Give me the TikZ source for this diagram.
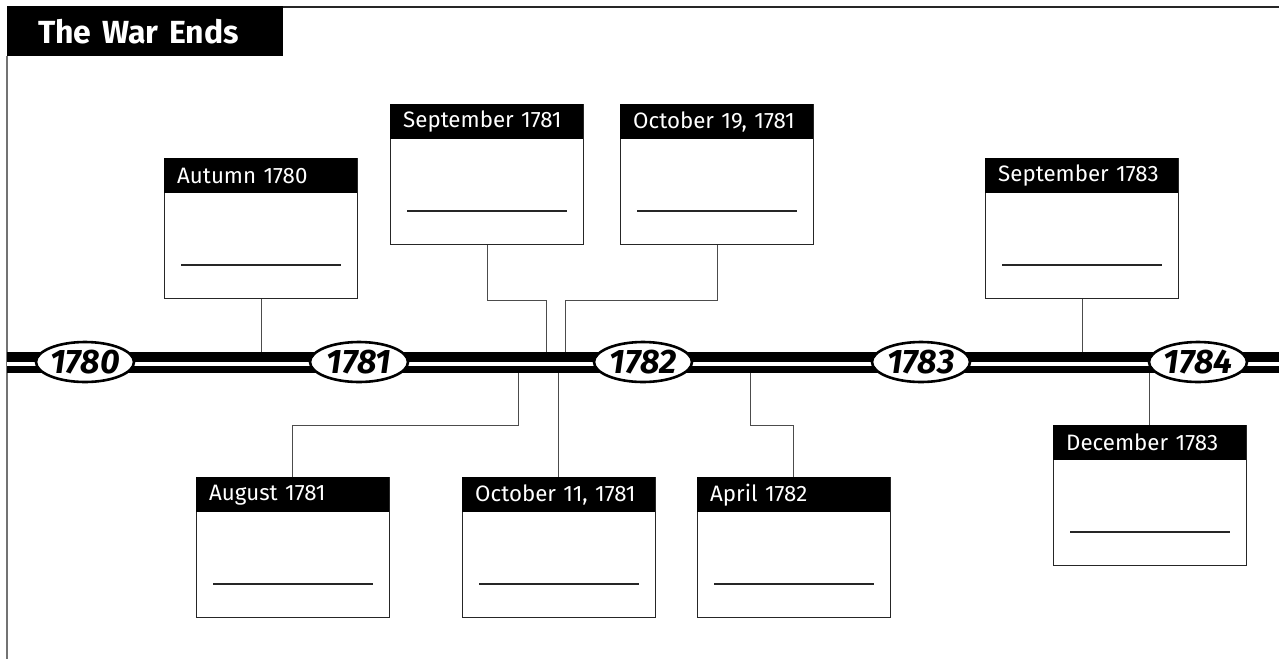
\documentclass[tikz,border=0pt]{standalone}
\usepackage{fontspec}
\setmainfont{Fira Sans}
\usetikzlibrary{shapes.geometric}
\tikzset{
  evbox/.style={draw=black!85, line width=1.4pt, fill=white, minimum width=193pt, minimum height=140pt, inner sep=0pt, anchor=north west},
  evhead/.style={fill=black, text=white, minimum height=35pt, text width=167pt, inner xsep=13pt, inner ysep=0pt, align=left, anchor=north west, font=\fontsize{22.3}{25}\selectfont},
  blank/.style={line width=1.1pt, black!85},
  conn/.style={line width=1pt, black!70},
  yearoval/.style={ellipse, draw=black, line width=2.6pt, fill=white, minimum width=98pt, minimum height=40pt, inner sep=0pt},
  yeartext/.style={font=\fontsize{34}{36}\selectfont\bfseries\itshape, inner sep=0pt},
}
\newcommand\eventbox[4]{%
  \node[evbox] (#1) at (#2,#3) {};
  \node[evhead] (#1h) at (#1.north west) {#4};
  \draw[blank] ([shift={(17pt,-107pt)}]#1.north west) -- ++(160pt,0);
}
\begin{document}
\begin{tikzpicture}[x=1pt,y=-1pt]
\useasboundingbox (0,0) rectangle (1279,659);
% frame
\draw[line width=2pt, black!85] (283,7) -- (1279,7);
\draw[line width=1.5pt, black!55] (7,56) -- (7,659);
\node[fill=black, text=white, anchor=north west, minimum height=50pt, text width=214pt, inner xsep=31pt, inner ysep=0pt, align=left, font=\fontsize{32}{34}\selectfont\bfseries] (title) at (7,6) {The War Ends};
% band
\fill[black] (7,352) rectangle (1279,373);
\fill[white] (7,362) rectangle (1279,366);
\coordinate (btop) at (0,352);
\coordinate (bbot) at (0,373);
% years
\node[yearoval, label={[yeartext]center:1780}] (y1780) at (85,362) {};
\node[yearoval, label={[yeartext]center:1781}] (y1781) at (359,362) {};
\node[yearoval, label={[yeartext]center:1782}] (y1782) at (643,362) {};
\node[yearoval, label={[yeartext]center:1783}] (y1783) at (921,362) {};
\node[yearoval, label={[yeartext]center:1784}] (y1784) at (1198,362) {};
% events
\eventbox{aut80}{164}{158}{Autumn 1780}
\eventbox{sep81}{390}{104}{September 1781}
\eventbox{oct19}{620}{104}{October 19, 1781}
\eventbox{sep83}{985}{158}{September 1783}
\eventbox{aug81}{196}{477}{August 1781}
\eventbox{oct11}{462}{477}{October 11, 1781}
\eventbox{apr82}{697}{477}{April 1782}
\eventbox{dec83}{1053}{425}{December 1783}
% connectors
\coordinate (c1) at (546,352);
\coordinate (c2) at (565,352);
\coordinate (c4) at (518,373);
\coordinate (c5) at (750,373);
\draw[conn] (aut80.south) -- (aut80.south |- btop);
\draw[conn] (sep81.south) -- ++(0,55) -| (c1);
\draw[conn] (oct19.south) -- ++(0,55) -| (c2);
\draw[conn] (sep83.south) -- (sep83.south |- btop);
\draw[conn] (aug81h.north) -- ++(0,-52) -| (c4);
\draw[conn] (oct11h.north) -- (oct11h.north |- bbot);
\draw[conn] (apr82h.north) -- ++(0,-52) -| (c5);
\draw[conn] (dec83h.north) -- (dec83h.north |- bbot);
\end{tikzpicture}
\end{document}
